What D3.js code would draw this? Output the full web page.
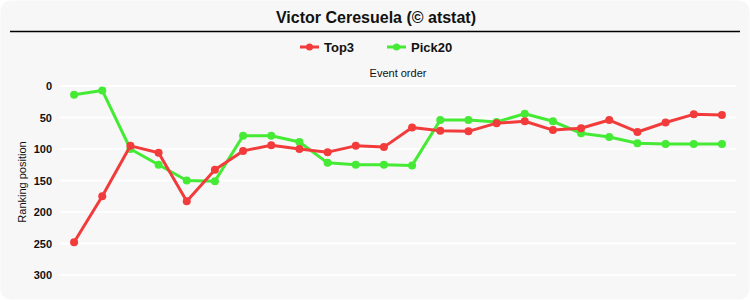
<!DOCTYPE html>
<html><head><meta charset="utf-8">
<script src="https://cdn.jsdelivr.net/npm/d3@7/dist/d3.min.js"></script>
<style>body{margin:0;background:#fff}svg{display:block}</style>
</head><body><svg id="c" width="750" height="300"></svg>
<script>
const events = d3.range(1, 25);
const top3 = [248,175,95,106,183,133,103,94,100,105,95,97,66,71,72,59,56,70,67,54,73,58,45,46];
const pick20 = [14,7,100,125,150,151,79,79,89,122,125,125,126,54,54,57,44,56,75,81,91,92,92,92];
const yTicks = [0,50,100,150,200,250,300];
const seriesNames = ["Top3","Pick20"];
const colors = ["#f23c3c","#45ea35"];

const svg = d3.select("#c");
const font = "Arial, 'Liberation Sans', sans-serif";
svg.append("rect").attr("x",0.5).attr("y",0.5).attr("width",749).attr("height",299).attr("rx",10).attr("fill","#f7f7f7");

svg.append("text").attr("x",376).attr("y",23).attr("text-anchor","middle")
  .attr("font-family",font).attr("font-weight","bold").attr("font-size",16).attr("fill","#111")
  .text("Victor Ceresuela (© atstat)");
svg.append("line").attr("x1",10).attr("x2",740).attr("y1",31.5).attr("y2",31.5).attr("stroke","#000").attr("stroke-width",1.5);

const x = d3.scalePoint().domain(events).range([60,736]).padding(0.5);
const y = d3.scaleLinear().domain([0,300]).range([86,275]);

// grid
svg.append("g").selectAll("line").data(yTicks).join("line")
  .attr("x1",60).attr("x2",736).attr("y1",d=>y(d)).attr("y2",d=>y(d))
  .attr("stroke","#fff").attr("stroke-width",2);

// y axis
const yAxis = svg.append("g").attr("transform","translate(60,0)")
  .call(d3.axisLeft(y).tickValues(yTicks).tickSize(0).tickPadding(8));
yAxis.select(".domain").remove();
yAxis.selectAll("text").attr("font-family",font).attr("font-weight","bold").attr("font-size",11).attr("fill","#111");

svg.append("text").attr("transform","translate(26,182) rotate(-90)").attr("text-anchor","middle")
  .attr("font-family",font).attr("font-size",11).attr("fill","#111").text("Ranking position");
svg.append("text").attr("x",398).attr("y",77).attr("text-anchor","middle")
  .attr("font-family",font).attr("font-size",11).attr("fill","#111").text("Event order");

// legend
const legendX = [300, 387];
seriesNames.forEach((n,i)=>{
  const g = svg.append("g");
  g.append("line").attr("x1",legendX[i]).attr("x2",legendX[i]+19).attr("y1",47).attr("y2",47)
    .attr("stroke",colors[i]).attr("stroke-width",3);
  g.append("circle").attr("cx",legendX[i]+9.5).attr("cy",47).attr("r",3.5).attr("fill",colors[i]);
  g.append("text").attr("x",legendX[i]+24).attr("y",52).attr("font-family",font).attr("font-weight","bold")
    .attr("font-size",13).attr("fill","#111").text(n);
});

// series
const data = [pick20, top3];
const cols = [colors[1], colors[0]];
const line = d3.line().x((d,i)=>x(events[i])).y(d=>y(d));
data.forEach((s,k)=>{
  svg.append("path").datum(s).attr("d",line).attr("fill","none").attr("stroke",cols[k]).attr("stroke-width",3).attr("stroke-linejoin","round");
  svg.append("g").selectAll("circle").data(s).join("circle")
    .attr("cx",(d,i)=>x(events[i])).attr("cy",d=>y(d)).attr("r",4).attr("fill",cols[k]);
});
</script></body></html>
